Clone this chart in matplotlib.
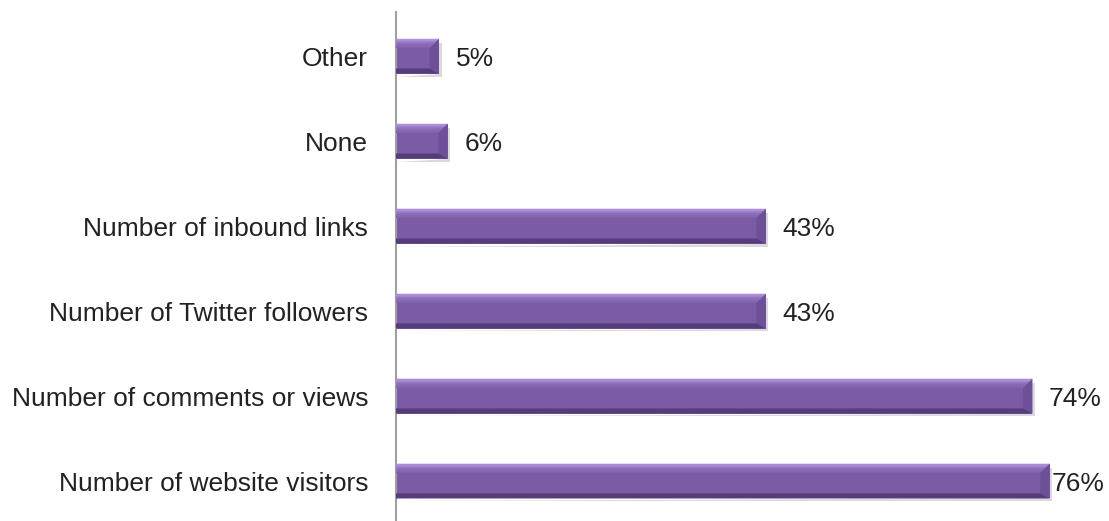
"""Horizontal bar chart of metrics used to measure social media success."""

import matplotlib

matplotlib.use("Agg")

import matplotlib.pyplot as plt
import numpy as np
from matplotlib.colors import to_rgb
from matplotlib.patches import Polygon

categories = [
    "Number of website visitors",
    "Number of comments or views",
    "Number of Twitter followers",
    "Number of inbound links",
    "None",
    "Other",
]
shares = [76, 74, 43, 43, 6, 5]

FACE = "#7b5ba6"
TOP = "#b698e2"
RIGHT = "#6d5097"
BOTTOM = "#553d7a"
SHADOW = "#dcd8e0"

plt.rcParams["font.family"] = ["Liberation Sans", "DejaVu Sans"]


def blend(c1, c2, t):
    a, b = np.array(to_rgb(c1)), np.array(to_rgb(c2))
    return tuple(a + (b - a) * t)


fig = plt.figure(figsize=(11.09, 5.21), dpi=100)
ax = fig.add_axes([0.357, 0.0, 0.643, 0.977])

ax.set_xlim(0, 82.9)
ax.set_ylim(-0.47, 5.52)

height = 0.41
bevel_x = 1.1
bevel_top = 0.11
bevel_bot = 0.06
steps = 8

for pos, value in enumerate(shares):
    top = pos + height / 2
    bot = pos - height / 2

    # soft drop shadow under each bar
    ax.add_patch(Polygon(
        [(0, bot - 0.035), (value + 0.3, bot - 0.035),
         (value + 0.3, top - 0.05), (value, top - 0.05), (value, bot)],
        closed=True, facecolor=SHADOW, edgecolor="none", zorder=1,
    ))
    # front face
    ax.barh(pos, value, height=height, color=FACE, zorder=2)

    # right bevel
    ax.add_patch(Polygon(
        [(value, top), (value, bot), (value - bevel_x, bot + bevel_bot),
         (value - bevel_x, top - bevel_top)],
        closed=True, facecolor=RIGHT, edgecolor="none", zorder=3,
    ))
    # bottom bevel
    ax.add_patch(Polygon(
        [(0, bot), (value, bot), (value - bevel_x, bot + bevel_bot),
         (0, bot + bevel_bot)],
        closed=True, facecolor=BOTTOM, edgecolor="none", zorder=3,
    ))
    # top bevel, shaded from the highlight down into the face
    for i in range(steps):
        f0, f1 = i / steps, (i + 1) / steps
        ax.add_patch(Polygon(
            [(0, top - f0 * bevel_top), (value - f0 * bevel_x, top - f0 * bevel_top),
             (value - f1 * bevel_x, top - f1 * bevel_top), (0, top - f1 * bevel_top)],
            closed=True, facecolor=blend(TOP, FACE, f0 ** 0.8),
            edgecolor="none", zorder=4,
        ))

    # keep the value label inside the figure for the longest bar
    offset = 12 if value < 75 else 1.5
    ax.annotate(
        f"{value}%",
        xy=(value, pos),
        xytext=(offset, 0),
        textcoords="offset points",
        va="center_baseline",
        ha="left",
        fontsize=19,
        color="#222222",
    )

ax.set_yticks(range(len(categories)), categories)
ax.tick_params(axis="y", length=0, pad=20, labelsize=19,
               labelcolor="#222222")
ax.set_xticks([])

for side in ("top", "right", "bottom"):
    ax.spines[side].set_visible(False)
ax.spines["left"].set_color("#a0a0a0")
ax.spines["left"].set_linewidth(1.5)

fig.savefig("out.png", dpi=100)
